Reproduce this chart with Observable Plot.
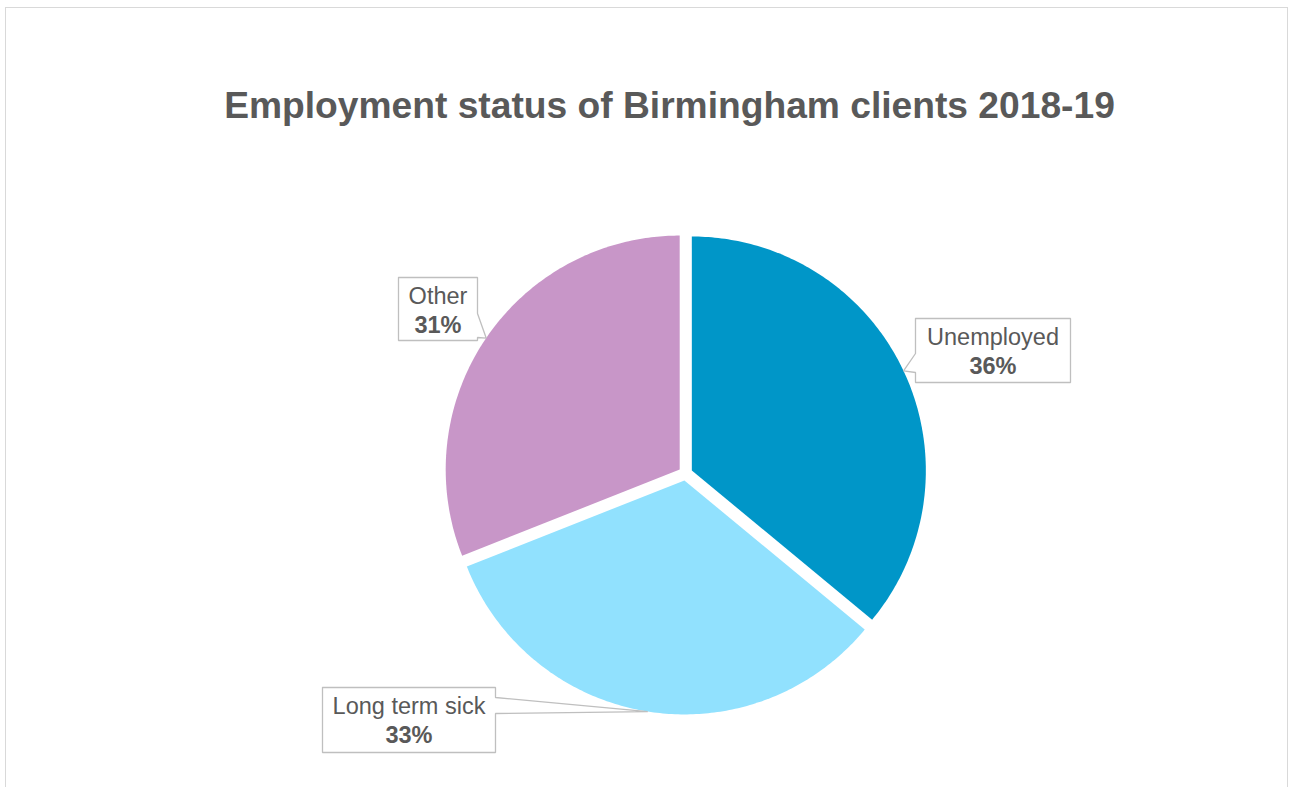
<!DOCTYPE html>
<html>
<head>
<meta charset="utf-8">
<script src="https://cdn.jsdelivr.net/npm/d3@7"></script>
<script src="https://cdn.jsdelivr.net/npm/@observablehq/plot@0.6"></script>
<style>
  html, body { margin: 0; padding: 0; background: #fff; }
  #wrap { position: relative; width: 1290px; height: 787px; overflow: hidden; }
  #frame { position: absolute; left: 5px; top: 7px; width: 1283px; height: 800px; border: 1px solid #d9d9d9; box-sizing: border-box; }
  #chart { position: absolute; left: 0; top: 0; }
  svg { font-family: "Liberation Sans", Arial, sans-serif; }
</style>
</head>
<body>
<div id="wrap"><div id="frame"></div><div id="chart"></div></div>
<script>
// ---- data ----
const title = "Employment status of Birmingham clients 2018-19";
const categories = ["Unemployed", "Long term sick", "Other"];
const values = [36, 33, 31];
const pctLabels = ["36%", "33%", "31%"];
const colors = ["#0096c8", "#91e1fe", "#c896c8"];

// ---- layout (pixels) ----
const W = 1290, H = 787;
const cx = 685, cy = 473, R = 234, explode = 7;
// callout boxes: [x0, y0, x1, y1], side with wedge, wedge base along side
const boxes = [
  {box: [915, 318, 1070, 382], side: "left",  base: [353, 372]},
  {box: [322, 687, 495, 752],  side: "right", base: [697, 713]},
  {box: [398, 277, 477, 340],  side: "right", base: [313, 337]}
];

const arcs = d3.pie().sort(null).value(d => d)(values);

// slice polygons
const slicePts = [];
const tips = [];
arcs.forEach((a, i) => {
  const mid = (a.startAngle + a.endAngle) / 2;
  const ox = cx + explode * Math.sin(mid), oy = cy - explode * Math.cos(mid);
  slicePts.push({x: ox, y: oy, k: categories[i]});
  const n = 160;
  for (let j = 0; j <= n; j++) {
    const t = a.startAngle + (a.endAngle - a.startAngle) * j / n;
    slicePts.push({x: ox + R * Math.sin(t), y: oy - R * Math.cos(t), k: categories[i]});
  }
  tips.push([ox + R * Math.sin(mid), oy - R * Math.cos(mid)]);
});

// callout polygons
const calloutPts = [];
boxes.forEach((b, i) => {
  const [x0, y0, x1, y1] = b.box;
  const [t0, t1] = b.base;
  const [tx, ty] = tips[i];
  let pts;
  if (b.side === "right") {
    pts = [[x0, y0], [x1, y0], [x1, t0], [tx, ty], [x1, t1], [x1, y1], [x0, y1], [x0, y0]];
  } else {
    pts = [[x0, y0], [x1, y0], [x1, y1], [x0, y1], [x0, t1], [tx, ty], [x0, t0], [x0, y0]];
  }
  pts.forEach(p => calloutPts.push({x: p[0], y: p[1], k: categories[i]}));
});

const fs = 23.5;
const tfs = 37.2;
const labelData = categories.map((c, i) => {
  const [x0, y0, x1] = boxes[i].box;
  return {name: c, pct: pctLabels[i], x: (x0 + x1) / 2, y1: y0 + 26.5 - 0.32 * fs, y2: y0 + 55 - 0.32 * fs};
});

const chart = Plot.plot({
  width: W, height: H,
  margin: 0,
  x: {domain: [0, W], range: [0, W], axis: null},
  y: {domain: [0, H], range: [0, H], axis: null},
  color: {domain: categories, range: colors},
  style: {fontFamily: '"Liberation Sans", Arial, sans-serif', background: "transparent"},
  marks: [
    Plot.line(slicePts, {x: "x", y: "y", z: "k", fill: "k", stroke: "none", curve: "linear-closed"}),
    Plot.line(calloutPts, {x: "x", y: "y", z: "k", fill: "white", stroke: "#bfbfbf", strokeWidth: 1.3, strokeLinejoin: "miter"}),
    Plot.text(labelData, {x: "x", y: "y1", text: "name", fontSize: fs, fill: "#595959", textAnchor: "middle", lineAnchor: "middle"}),
    Plot.text(labelData, {x: "x", y: "y2", text: "pct", fontSize: fs, fontWeight: "bold", fill: "#595959", textAnchor: "middle", lineAnchor: "middle"}),
    Plot.text([title], {x: () => 669, y: () => 117 - 0.32 * tfs, text: d => d, fontSize: tfs, fontWeight: "bold", fill: "#595959", textAnchor: "middle", lineAnchor: "middle"})
  ]
});
document.getElementById("chart").appendChild(chart);
</script>
</body>
</html>
